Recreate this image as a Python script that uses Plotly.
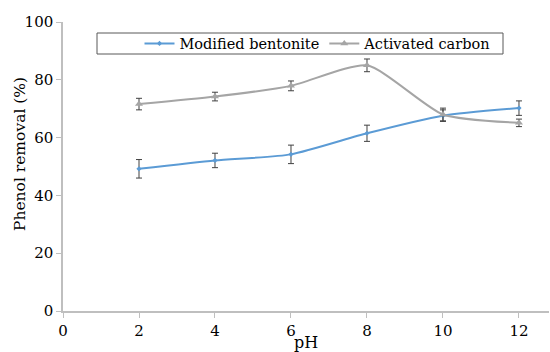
import plotly.graph_objects as go

ph = [2, 4, 6, 8, 10, 12]
bentonite = [49.2, 52.1, 54.2, 61.5, 67.6, 70.2]
bentonite_err = [3.2, 2.5, 3.2, 2.8, 2.0, 2.5]
carbon = [71.6, 74.2, 77.9, 85.0, 68.0, 65.1]
carbon_err = [2.0, 1.5, 1.7, 2.2, 2.2, 1.3]

font_family = "DejaVu Serif"
axis_color = "#BFBFBF"

fig = go.Figure()
fig.add_trace(go.Scatter(
    x=ph, y=bentonite, name="Modified bentonite", mode="lines+markers",
    line=dict(color="#5B9BD5", width=2, shape="spline", smoothing=0.6),
    marker=dict(symbol="diamond", size=4, color="#5B9BD5"),
    error_y=dict(type="data", array=bentonite_err, color="#404040", thickness=1, width=3),
))
fig.add_trace(go.Scatter(
    x=ph, y=carbon, name="Activated carbon", mode="lines+markers",
    line=dict(color="#A5A5A5", width=2, shape="spline", smoothing=0.6),
    marker=dict(symbol="triangle-up", size=7, color="#A5A5A5"),
    error_y=dict(type="data", array=carbon_err, color="#404040", thickness=1, width=3),
))

fig.add_shape(type="rect", xref="paper", yref="paper",
              x0=(97-63)/486, x1=(503-63)/486, y0=(311-54)/289, y1=(311-33)/289,
              line=dict(color="#595959", width=1), fillcolor="rgba(0,0,0,0)")

fig.add_annotation(text="Phenol removal (%)", textangle=-90, showarrow=False,
                   xref="paper", yref="paper", x=(20-63)/486, y=(311-154)/289,
                   xanchor="center", yanchor="middle", font=dict(size=15.5))

fig.update_layout(
    width=550, height=352,
    margin=dict(l=63, r=1, t=22, b=41),
    paper_bgcolor="white", plot_bgcolor="white",
    font=dict(family=font_family, size=14, color="#000000"),
    showlegend=True,
    legend=dict(orientation="h", x=(318-63)/486, y=(311-43.5)/289, xanchor="center", yanchor="middle",
                bgcolor="rgba(0,0,0,0)", borderwidth=0, itemwidth=30,
                font=dict(family=font_family, size=14.5), tracegroupgap=0),
    xaxis=dict(range=[0, 12.79], tickvals=[0, 2, 4, 6, 8, 10, 12], showgrid=False, zeroline=False,
               showline=True, linecolor=axis_color, linewidth=1.5, ticks="outside", ticklen=5,
               tickcolor=axis_color, tickfont=dict(size=15),
               title=dict(text="pH", font=dict(size=16), standoff=0)),
    yaxis=dict(range=[0, 100], tickvals=[0, 20, 40, 60, 80, 100], showgrid=False, zeroline=False,
               showline=True, linecolor=axis_color, linewidth=1.5, ticks="outside", ticklen=5,
               tickcolor=axis_color, tickfont=dict(size=15)),
)

fig.write_html("out.html")
